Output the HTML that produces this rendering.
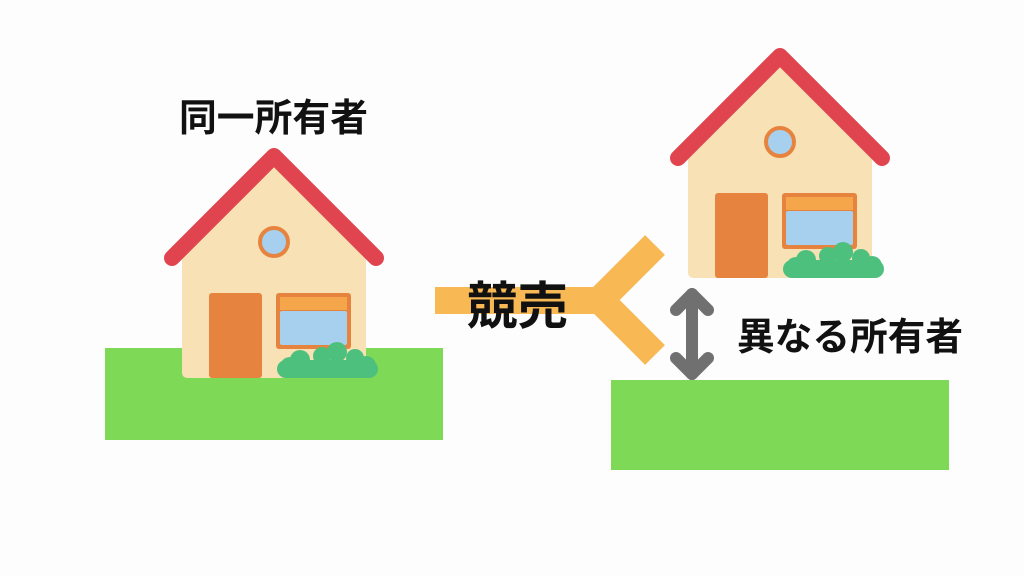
<!DOCTYPE html>
<html><head><meta charset="utf-8"><style>
body{margin:0;background:#fdfdfd;}
svg{display:block}
text{font-family:"Liberation Sans","Noto Sans CJK JP",sans-serif;font-weight:bold;fill:#111}
</style></head><body>
<svg width="1024" height="576" viewBox="0 0 1024 576">
<defs>
<g id="house">
  <path d="M182 240 L274 160 L366 240 L366 372 Q366 378 360 378 L188 378 Q182 378 182 372 Z" fill="#f8e1b4"/>
  <polyline points="172,258 274,156 376,258" fill="none" stroke="#e0454f" stroke-width="16" stroke-linecap="round" stroke-linejoin="round"/>
  <circle cx="274" cy="242" r="14" fill="#a7d0ef" stroke="#e6843f" stroke-width="4"/>
  <rect x="209" y="293" width="53" height="85" rx="3" fill="#e6843f"/>
  <rect x="276" y="293" width="75" height="56" rx="3" fill="#e6843f"/>
  <rect x="280" y="297" width="67" height="13" fill="#f5a64a"/>
  <rect x="280" y="311" width="67" height="34" rx="2" fill="#a7d0ef"/>
  <g fill="#4dc07e">
    <rect x="277" y="360" width="101" height="18" rx="9"/>
    <circle cx="300" cy="360" r="10"/>
    <circle cx="322" cy="356" r="9"/>
    <circle cx="337" cy="352" r="10"/>
    <circle cx="355" cy="358" r="9"/>
    <circle cx="290" cy="367" r="10"/>
    <circle cx="366" cy="366" r="10"/>
  </g>
</g>
</defs>
<rect x="105" y="348" width="338" height="92" fill="#7ed957"/>
<use href="#house"/>
<rect x="611" y="380" width="338" height="90" fill="#7ed957"/>
<use href="#house" transform="translate(506,-100)"/>
<rect x="435" y="287" width="165" height="27" fill="#f8b955"/>
<polyline points="655,245 600,300 655,355" fill="none" stroke="#f8b955" stroke-width="28"/>
<g stroke="#707070" stroke-width="12" stroke-linecap="round" stroke-linejoin="round" fill="none">
  <line x1="692" y1="294" x2="692" y2="374"/>
  <polyline points="676,310 692,294 708,310"/>
  <polyline points="676,358 692,374 708,358"/>
</g>
<text x="179" y="131" font-size="38" textLength="189" lengthAdjust="spacingAndGlyphs">同一所有者</text>
<text x="467" y="324" font-size="51" textLength="101" lengthAdjust="spacingAndGlyphs">競売</text>
<text x="737" y="350" font-size="38" textLength="226" lengthAdjust="spacingAndGlyphs">異なる所有者</text>
</svg>
</body></html>
